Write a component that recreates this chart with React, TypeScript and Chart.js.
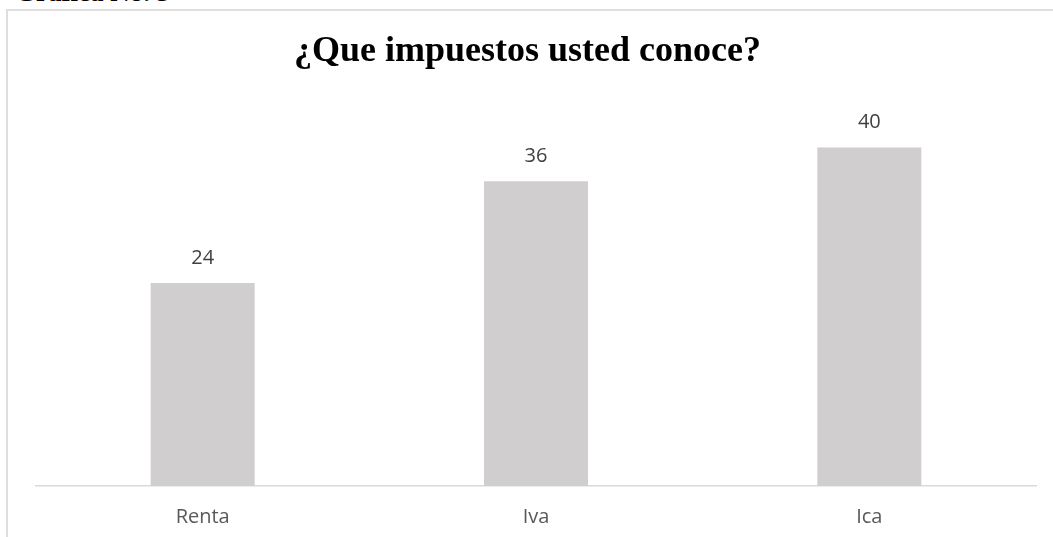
import React, { useEffect, useRef } from "react";
import { Chart, registerables } from "chart.js";

Chart.register(...registerables);

const categories = ["Renta", "Iva", "Ica"];
const values = [24, 36, 40];
const titleText = "¿Que impuestos usted conoce?";
const captionText = "Gráfica No. 3";
const yMax = 45;

const valueLabelPlugin = {
  id: "valueLabels",
  afterDatasetsDraw(chart: any) {
    const { ctx } = chart;
    const meta = chart.getDatasetMeta(0);
    const data = chart.data.datasets[0].data;
    ctx.save();
    ctx.font = "20px 'Open Sans'";
    ctx.fillStyle = "#404040";
    ctx.textAlign = "center";
    ctx.textBaseline = "middle";
    meta.data.forEach((el: any, i: number) => {
      ctx.fillText(String(data[i]), el.x, el.y - 25);
    });
    ctx.restore();
  },
};

export default function App() {
  const ref = useRef<HTMLCanvasElement>(null);

  useEffect(() => {
    const chart = new Chart(ref.current as HTMLCanvasElement, {
      type: "bar",
      data: {
        labels: categories,
        datasets: [
          {
            data: values,
            backgroundColor: "#d0cece",
            barPercentage: 0.312,
            categoryPercentage: 1,
          },
        ],
      },
      options: {
        animation: false,
        responsive: true,
        maintainAspectRatio: false,
        layout: { padding: { left: 19, right: 17, top: 0, bottom: -11 } },
        plugins: {
          legend: { display: false },
          tooltip: { enabled: false },
          title: {
            display: true,
            text: titleText,
            color: "#000000",
            font: {
              family: "'Liberation Serif', 'Times New Roman', serif",
              size: 36,
              weight: "bold",
            },
            padding: { top: 30, bottom: 32 },
          },
        },
        scales: {
          x: {
            grid: { display: false, drawTicks: false },
            border: { display: true, color: "#d9d9d9", width: 1.5 },
            ticks: {
              color: "#595959",
              font: { family: "'Open Sans'", size: 20 },
              padding: 19,
            },
          },
          y: {
            display: true,
            min: 0,
            max: yMax,
            grid: { display: false, drawTicks: false },
            border: { display: false },
            ticks: { display: false },
            afterFit: (scale: any) => {
              scale.width = 17;
            },
          },
        },
      } as any,
      plugins: [valueLabelPlugin],
    });
    return () => chart.destroy();
  }, []);

  return (
    <div
      style={{
        position: "fixed",
        left: 0,
        top: 0,
        width: 1053,
        height: 537,
        overflow: "hidden",
        background: "#ffffff",
      }}
    >
      <span
        style={{
          position: "absolute",
          left: 15,
          top: -21,
          fontFamily: "'Liberation Serif', 'Times New Roman', serif",
          fontWeight: "bold",
          fontSize: 27,
          lineHeight: "27px",
          color: "#000",
          whiteSpace: "nowrap",
        }}
      >
        {captionText}
      </span>
      <div
        style={{
          position: "absolute",
          left: 6,
          top: 9,
          width: 1120,
          height: 620,
          border: "2px solid #dedede",
          boxSizing: "border-box",
        }}
      />
      <div style={{ position: "absolute", left: 0, top: 0, width: 1053, height: 537 }}>
        <canvas ref={ref} />
      </div>
    </div>
  );
}
